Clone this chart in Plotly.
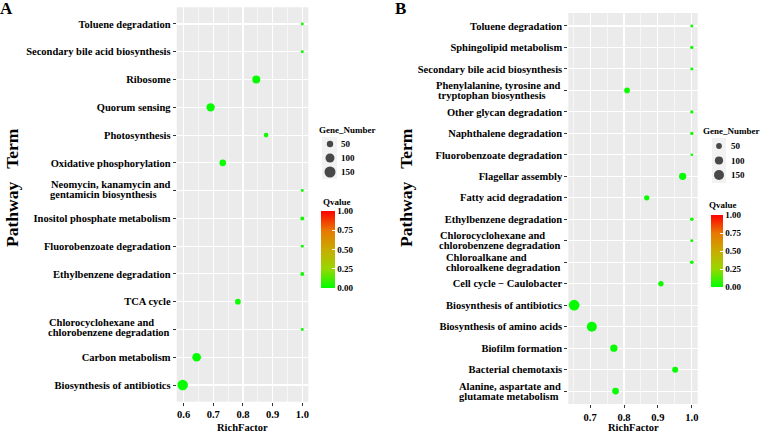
import plotly.graph_objects as go

NB = "\u00a0"
# ---------------- data: panel A (bottom -> top); "\n" marks a wrapped label ----------------
terms_a = [
    "Biosynthesis of antibiotics",
    "Carbon metabolism",
    "Chlorocyclohexane and" + NB * 6 + "\nchlorobenzene degradation",
    "TCA cycle",
    "Ethylbenzene degradation",
    "Fluorobenzoate degradation",
    "Inositol phosphate metabolism",
    "Neomycin, kanamycin and\ngentamicin biosynthesis" + NB * 5,
    "Oxidative phosphorylation",
    "Photosynthesis",
    "Quorum sensing",
    "Ribosome",
    "Secondary bile acid biosynthesis",
    "Toluene degradation",
]
rich_a = [0.597, 0.644, 1.0, 0.783, 1.0, 1.0, 1.0, 1.0, 0.732, 0.878, 0.691, 0.845, 1.0, 1.0]
genes_a = [136, 93, 11, 40, 20, 11, 20, 11, 55, 27, 85, 79, 11, 11]
qval_a = [0.01, 0.01, 0.03, 0.02, 0.03, 0.03, 0.03, 0.03, 0.02, 0.03, 0.01, 0.01, 0.03, 0.03]

# ---------------- data: panel B (bottom -> top) ----------------
terms_b = [
    "Alanine, aspartate and\nglutamate metabolism" + NB,
    "Bacterial chemotaxis",
    "Biofilm formation",
    "Biosynthesis of amino acids",
    "Biosynthesis of antibiotics",
    "Cell cycle \u2212 Caulobacter",
    "Chloroalkane and" + NB * 13 + "\nchloroalkene degradation",
    "Chlorocyclohexane and" + NB * 6 + "\nchlorobenzene degradation",
    "Ethylbenzene degradation",
    "Fatty acid degradation",
    "Flagellar assembly",
    "Fluorobenzoate degradation",
    "Naphthalene degradation",
    "Other glycan degradation",
    "Phenylalanine, tyrosine and\ntryptophan biosynthesis" + NB * 6,
    "Secondary bile acid biosynthesis",
    "Sphingolipid metabolism",
    "Toluene degradation",
]
rich_b = [0.775, 0.951, 0.770, 0.705, 0.653, 0.909, 1.0, 1.0, 1.0, 0.867, 0.973, 1.0, 1.0, 1.0, 0.809, 1.0, 1.0, 1.0]
genes_b = [67, 54, 79, 149, 170, 42, 20, 13, 20, 42, 79, 11, 16, 16, 48, 13, 16, 13]
qval_b = [0.01, 0.01, 0.01, 0.01, 0.01, 0.02, 0.03, 0.03, 0.03, 0.02, 0.01, 0.03, 0.03, 0.03, 0.02, 0.03, 0.03, 0.03]

size_legend = [50, 100, 150]
q_ticks = [0, 0.25, 0.5, 0.75, 1.0]
q_ticktext = ["0.00", "0.25", "0.50", "0.75", "1.00"]
x_ticks_a = [0.6, 0.7, 0.8, 0.9, 1.0]
x_ticks_b = [0.7, 0.8, 0.9, 1.0]

# ---------------- styling ----------------
W, H = 760, 433
FONT = "Liberation Serif"
colorscale = [[0.0, "#00FF00"], [0.25, "#98D700"], [0.5, "#C9AB00"], [0.75, "#E87700"], [1.0, "#FF0000"]]
k_a, k_b = 0.9, 0.82  # marker diameter = k*sqrt(gene number)


def px_x(p):
    return p / W


def px_y(p):
    return 1 - p / H


def xrange(vals):
    lo, hi = min(vals), max(vals)
    pad = 0.05 * (hi - lo)
    return [lo - pad, hi + pad]


def cat_key(t):
    return t.replace(NB, "").replace("\n", " ").strip()


def tick_txt(t):
    return "" if "\n" in t else t


keys_a = [cat_key(t) for t in terms_a]
keys_b = [cat_key(t) for t in terms_b]

fig = go.Figure()

fig.add_trace(go.Scatter(
    x=rich_a, y=keys_a, mode="markers", xaxis="x", yaxis="y",
    marker=dict(size=genes_a, sizemode="area", sizeref=2 / k_a ** 2, sizemin=1,
                color=qval_a, coloraxis="coloraxis", line=dict(width=0), opacity=1),
    showlegend=False, hoverinfo="skip"))

fig.add_trace(go.Scatter(
    x=rich_b, y=keys_b, mode="markers", xaxis="x2", yaxis="y2",
    marker=dict(size=genes_b, sizemode="area", sizeref=2 / k_b ** 2, sizemin=1,
                color=qval_b, coloraxis="coloraxis2", line=dict(width=0), opacity=1),
    showlegend=False, hoverinfo="skip"))

# size legends drawn on a pixel-based overlay axis
leg_a_x, leg_a_y = 330, [144, 158, 172]
leg_b_x, leg_b_y = 719, [146, 160.5, 175]
fig.add_trace(go.Scatter(
    x=[leg_a_x] * 3, y=leg_a_y, mode="markers", xaxis="x3", yaxis="y3",
    marker=dict(size=size_legend, sizemode="area", sizeref=2 / k_a ** 2, color="black", line=dict(width=0)),
    showlegend=False, hoverinfo="skip"))
fig.add_trace(go.Scatter(
    x=[leg_b_x] * 3, y=leg_b_y, mode="markers", xaxis="x3", yaxis="y3",
    marker=dict(size=size_legend, sizemode="area", sizeref=2 / k_b ** 2, color="black", line=dict(width=0)),
    showlegend=False, hoverinfo="skip"))

tickfont = dict(family=FONT, size=10.5, color="black", weight="bold")
titlefont = dict(family=FONT, size=10.5, color="black", weight="bold")
legfont = dict(family=FONT, size=9, color="black", weight="bold")


def xaxis_cfg(domain, anchor, vals, ticks):
    return dict(domain=domain, anchor=anchor, range=xrange(vals),
                tickvals=ticks, tickformat=".1f", ticks="outside", ticklen=3, tickcolor="#333333",
                tickfont=tickfont, showgrid=True, gridcolor="white", gridwidth=1.1,
                minor=dict(dtick=0.05, tick0=0, showgrid=True, gridcolor="white", gridwidth=0.55, ticks=""),
                zeroline=False, showline=False, automargin=False)


def yaxis_cfg(domain, anchor, terms, keys):
    return dict(domain=domain, anchor=anchor, type="category", categoryorder="array",
                categoryarray=keys, range=[-0.6, len(keys) - 0.4],
                tickmode="array", tickvals=keys, ticktext=[tick_txt(t) for t in terms],
                ticks="outside", ticklen=3, tickcolor="#333333", tickfont=tickfont,
                showgrid=True, gridcolor="white", gridwidth=1.1, zeroline=False, showline=False,
                automargin=False)


def cbar(x0, y0, length, thick):
    return dict(x=px_x(x0), xanchor="left", xref="paper", y=px_y(y0), yanchor="top", yref="paper",
                len=length, lenmode="pixels", thickness=thick, thicknessmode="pixels",
                xpad=0, ypad=0, outlinewidth=0, borderwidth=0,
                tickvals=q_ticks, ticktext=q_ticktext, ticks="inside", ticklen=3,
                tickcolor="white", tickwidth=1, tickfont=legfont)


fig.update_layout(
    width=W, height=H, margin=dict(l=0, r=0, t=0, b=0),
    paper_bgcolor="white", plot_bgcolor="rgba(0,0,0,0)",
    xaxis=xaxis_cfg([px_x(176.7), px_x(308.3)], "y", rich_a, x_ticks_a),
    yaxis=yaxis_cfg([px_y(401.7), px_y(7.3)], "x", terms_a, keys_a),
    xaxis2=xaxis_cfg([px_x(568.3), px_x(697.7)], "y2", rich_b, x_ticks_b),
    yaxis2=yaxis_cfg([px_y(404), px_y(13.1)], "x2", terms_b, keys_b),
    xaxis3=dict(domain=[0, 1], range=[0, W], visible=False, anchor="y3", fixedrange=True),
    yaxis3=dict(domain=[0, 1], range=[H, 0], visible=False, anchor="x3", fixedrange=True),
    coloraxis=dict(colorscale=colorscale, cmin=0, cmax=1, colorbar=cbar(321, 211, 77, 14)),
    coloraxis2=dict(colorscale=colorscale, cmin=0, cmax=1, colorbar=cbar(711, 215, 72, 12)),
    showlegend=False,
)

shapes = [
    dict(type="rect", xref="x domain", yref="y domain", x0=0, x1=1, y0=0, y1=1,
         fillcolor="#EBEBEB", line=dict(width=0), layer="below"),
    dict(type="rect", xref="x2 domain", yref="y2 domain", x0=0, x1=1, y0=0, y1=1,
         fillcolor="#EBEBEB", line=dict(width=0), layer="below"),
    dict(type="rect", xref="x3", yref="y3", x0=322, x1=337, y0=137, y1=179,
         fillcolor="#F2F2F2", line=dict(width=0), layer="below"),
    dict(type="rect", xref="x3", yref="y3", x0=712, x1=726, y0=138, y1=183,
         fillcolor="#F2F2F2", line=dict(width=0), layer="below"),
]
fig.update_layout(shapes=shapes)

ann = []
# wrapped y-axis labels, placed on the category axis with tight line spacing
for terms, keys, yref, xref, shifts in [(terms_a, keys_a, "y", "x domain", (6.5, -3.5)),
                                        (terms_b, keys_b, "y2", "x2 domain", (5, -5))]:
    for t, k in zip(terms, keys):
        if "\n" in t:
            for line, ys in zip(t.split("\n"), shifts):
                ann.append(dict(x=0, xref=xref, y=k, yref=yref, text=line, showarrow=False,
                                xanchor="right", yanchor="middle", xshift=-5, yshift=ys, font=tickfont))

for dom in ("x domain", "x2 domain"):
    ann.append(dict(x=0.5, xref=dom, y=px_y(427.5), yref="paper", text="RichFactor", showarrow=False,
                    xanchor="center", yanchor="middle", font=titlefont))

for yy, v in zip(leg_a_y, size_legend):
    ann.append(dict(x=339, y=yy, xref="x3", yref="y3", text=str(v), showarrow=False,
                    xanchor="left", yanchor="middle", font=legfont))
for yy, v in zip(leg_b_y, size_legend):
    ann.append(dict(x=729, y=yy, xref="x3", yref="y3", text=str(v), showarrow=False,
                    xanchor="left", yanchor="middle", font=legfont))
for xx, yy, txt in [(317, 130, "Gene_Number"), (701, 131, "Gene_Number"),
                    (321, 202, "Qvalue"), (707, 205, "Qvalue")]:
    ann.append(dict(x=xx, y=yy, xref="x3", yref="y3", text=txt, showarrow=False,
                    xanchor="left", yanchor="middle", font=legfont))

ytitle_font = dict(family=FONT, size=17.5, color="black", weight="bold")
for xx in (12, 406):
    ann.append(dict(x=xx, y=188, xref="x3", yref="y3", text="Pathway" + NB * 3 + "Term", textangle=-90,
                    showarrow=False, xanchor="center", yanchor="middle", font=ytitle_font))
panel_font = dict(family=FONT, size=17, color="black", weight="bold")
for xx, txt in ((6, "A"), (400, "B")):
    ann.append(dict(x=xx, y=8, xref="x3", yref="y3", text=txt, showarrow=False,
                    xanchor="center", yanchor="middle", font=panel_font))
fig.update_layout(annotations=ann)

fig.write_html("out.html", config={"displayModeBar": False, "staticPlot": True},
               post_script="document.body.style.margin='0';document.body.style.padding='0';"
                           "document.body.style.overflow='hidden';")
